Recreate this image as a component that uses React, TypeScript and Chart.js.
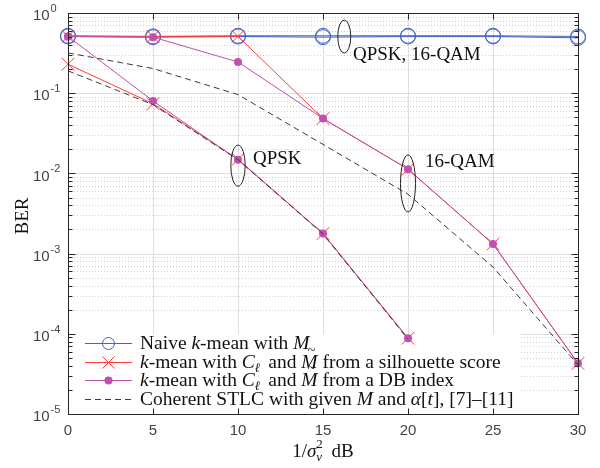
import React, { useEffect, useRef } from 'react';
import { Chart, registerables } from 'chart.js';

Chart.register(...registerables);

// ---- data ----
const snr = [0, 5, 10, 15, 20, 25, 30];
const xTicks = [0, 5, 10, 15, 20, 25, 30];
const yDecades = [0, -1, -2, -3, -4, -5];

const naiveQPSK = [0.51, 0.5, 0.51, 0.5, 0.51, 0.51, 0.49];
const naive16QAM = [0.52, 0.51, 0.52, 0.52, 0.52, 0.52, 0.51];
const silQPSK = [0.23, 0.074, 0.015, 0.00178, 0.000088];
const sil16QAM = [0.51, 0.51, 0.51, 0.0483, 0.0113, 0.00132, 0.0000428];
const dbQPSK = [0.51, 0.08, 0.0148, 0.00178, 0.000088];
const db16QAM = [0.51, 0.5, 0.245, 0.0483, 0.0113, 0.00132, 0.0000428];
const cohQPSK = [0.19, 0.072, 0.0148, 0.00175, 0.000086];
const coh16QAM = [0.318, 0.203, 0.096, 0.023, 0.0055, 0.00068, 0.000041];

const BLUE = '#4463c4';
const RED = '#ff3c3c';
const PURPLE = '#c04fae';
const DASHC = '#3a3a3a';
const AXIS = '#262626';
const SERIF = '"Liberation Serif", "Times New Roman", serif';
const SANS = '"Liberation Sans", Arial, sans-serif';

const pts = (vals: number[]) => vals.map((v, i) => ({ x: snr[i], y: v }));

type Seg = { t: string; it?: boolean; sz?: number; dy?: number; tilde?: boolean; noAdv?: boolean };

function drawRich(ctx: CanvasRenderingContext2D, segs: Seg[], x: number, y: number, base = 19) {
  let cx = x;
  ctx.textAlign = 'left';
  ctx.textBaseline = 'alphabetic';
  for (const s of segs) {
    const sz = s.sz ?? base;
    ctx.font = `${s.it ? 'italic ' : ''}${sz}px ${SERIF}`;
    ctx.fillText(s.t, cx, y + (s.dy ?? 0));
    const w = ctx.measureText(s.t).width;
    if (s.tilde) {
      ctx.save();
      ctx.font = `14px ${SERIF}`;
      ctx.textAlign = 'center';
      ctx.fillText('~', cx + w / 2 + 2, y - 13);
      ctx.restore();
    }
    if (!s.noAdv) cx += w;
  }
  return cx - x;
}

function richWidth(ctx: CanvasRenderingContext2D, segs: Seg[], base = 19) {
  let w = 0;
  for (const s of segs) {
    const sz = s.sz ?? base;
    ctx.font = `${s.it ? 'italic ' : ''}${sz}px ${SERIF}`;
    if (!s.noAdv) w += ctx.measureText(s.t).width;
  }
  return w;
}

const legendRows: { color: string; style: string; segs: Seg[] }[] = [
  {
    color: BLUE, style: 'circle',
    segs: [{ t: 'Naive ' }, { t: 'k', it: true }, { t: '-mean with ' }, { t: 'M', it: true }],
  },
  {
    color: RED, style: 'x',
    segs: [{ t: 'k', it: true }, { t: '-mean with ' }, { t: 'C', it: true }, { t: 'ℓ ', it: true, sz: 13, dy: 4 }, { t: ' and ' }, { t: 'M', it: true, tilde: true }, { t: ' from a silhouette score' }],
  },
  {
    color: PURPLE, style: 'dot',
    segs: [{ t: 'k', it: true }, { t: '-mean with ' }, { t: 'C', it: true }, { t: 'ℓ ', it: true, sz: 13, dy: 4 }, { t: ' and ' }, { t: 'M', it: true, tilde: true }, { t: ' from a DB index' }],
  },
  {
    color: DASHC, style: 'dash',
    segs: [{ t: 'Coherent STLC with given ' }, { t: 'M', it: true }, { t: ' and ' }, { t: 'α', it: true }, { t: '[' }, { t: 't', it: true }, { t: '], [7]–[11]' }],
  },
];

const deco = {
  id: 'deco',
  beforeDatasetsDraw(chart: any) {
    const { ctx, chartArea: a, scales } = chart;
    const xs = scales.x, ys = scales.y;
    ctx.save();
    ctx.lineWidth = 1;
    // minor dotted grid
    ctx.strokeStyle = '#d2d2d2';
    ctx.setLineDash([1, 2]);
    for (let d = -5; d < 0; d++) {
      for (let k = 2; k <= 9; k++) {
        const py = Math.round(ys.getPixelForValue(k * Math.pow(10, d))) + 0.5;
        ctx.beginPath();
        ctx.moveTo(a.left, py);
        ctx.lineTo(a.right, py);
        ctx.stroke();
      }
    }
    ctx.setLineDash([]);
    ctx.strokeStyle = '#dedede';
    for (const d of yDecades) {
      const py = Math.round(ys.getPixelForValue(Math.pow(10, d))) + 0.5;
      ctx.beginPath();
      ctx.moveTo(a.left, py);
      ctx.lineTo(a.right, py);
      ctx.stroke();
    }
    for (const t of xTicks) {
      const px = Math.round(xs.getPixelForValue(t)) + 0.5;
      ctx.beginPath();
      ctx.moveTo(px, a.top);
      ctx.lineTo(px, a.bottom);
      ctx.stroke();
    }
    // legend background (hides grid, data stays visible)
    ctx.fillStyle = '#ffffff';
    ctx.fillRect(69, 334, 452, 79);
    ctx.restore();
  },
  afterDatasetsDraw(chart: any) {
    const { ctx, chartArea: a, scales } = chart;
    const xs = scales.x, ys = scales.y;
    ctx.save();

    // annotations: ellipses
    ctx.strokeStyle = '#222';
    ctx.lineWidth = 1;
    const ell = (xv: number, yv: number, rx: number, ry: number) => {
      ctx.beginPath();
      ctx.ellipse(xs.getPixelForValue(xv), ys.getPixelForValue(yv), rx, ry, 0, 0, Math.PI * 2);
      ctx.stroke();
    };
    ell(16.25, 0.508, 6.5, 16.5);
    ell(10.0, 0.0125, 7.2, 20.5);
    ell(20.0, 0.0075, 7.5, 28.5);

    ctx.fillStyle = '#111';
    ctx.textBaseline = 'alphabetic';
    ctx.textAlign = 'left';
    ctx.font = `19px ${SERIF}`;
    ctx.fillText('QPSK, 16-QAM', 353, 60);
    ctx.fillText('QPSK', 253, 164);
    ctx.fillText('16-QAM', 425, 167);

    // legend
    const rowY = [343, 362, 380, 399];
    legendRows.forEach((r, i) => {
      const yy = rowY[i] + 0.5;
      ctx.strokeStyle = r.color;
      ctx.lineWidth = 1;
      if (r.style === 'dash') ctx.setLineDash([6, 4]);
      ctx.beginPath();
      ctx.moveTo(85, yy);
      ctx.lineTo(132, yy);
      ctx.stroke();
      ctx.setLineDash([]);
      const mx = 108.5;
      if (r.style === 'circle') {
        ctx.beginPath();
        ctx.arc(mx, yy, 6, 0, Math.PI * 2);
        ctx.stroke();
      } else if (r.style === 'x') {
        ctx.beginPath();
        ctx.moveTo(mx - 6, yy - 6); ctx.lineTo(mx + 6, yy + 6);
        ctx.moveTo(mx + 6, yy - 6); ctx.lineTo(mx - 6, yy + 6);
        ctx.stroke();
      } else if (r.style === 'dot') {
        ctx.fillStyle = r.color;
        ctx.beginPath();
        ctx.arc(mx, yy, 4, 0, Math.PI * 2);
        ctx.fill();
      }
      ctx.fillStyle = '#111';
      drawRich(ctx, r.segs, 140, rowY[i] + 6, 19.5);
    });

    // axes box
    ctx.strokeStyle = AXIS;
    ctx.lineWidth = 1;
    const L = Math.round(a.left) + 0.5, R = Math.round(a.right) + 0.5;
    const T = Math.round(a.top) + 0.5, B = Math.round(a.bottom) + 0.5;
    ctx.strokeRect(L, T, R - L, B - T);

    // ticks
    ctx.beginPath();
    for (const t of xTicks) {
      const px = Math.round(xs.getPixelForValue(t)) + 0.5;
      ctx.moveTo(px, B); ctx.lineTo(px, B - 6);
      ctx.moveTo(px, T); ctx.lineTo(px, T + 6);
    }
    for (const d of yDecades) {
      const py = Math.round(ys.getPixelForValue(Math.pow(10, d))) + 0.5;
      ctx.moveTo(L, py); ctx.lineTo(L + 7, py);
      ctx.moveTo(R, py); ctx.lineTo(R - 7, py);
      if (d < 0) {
        for (let k = 2; k <= 9; k++) {
          const pm = Math.round(ys.getPixelForValue(k * Math.pow(10, d))) + 0.5;
          ctx.moveTo(L, pm); ctx.lineTo(L + 4, pm);
          ctx.moveTo(R, pm); ctx.lineTo(R - 4, pm);
        }
      }
    }
    ctx.stroke();

    // tick labels
    ctx.fillStyle = '#444';
    ctx.font = `15px ${SANS}`;
    ctx.textAlign = 'center';
    ctx.textBaseline = 'middle';
    for (const t of xTicks) {
      ctx.fillText(String(t), xs.getPixelForValue(t), 431);
    }
    for (const d of yDecades) {
      const py = ys.getPixelForValue(Math.pow(10, d));
      ctx.textAlign = 'left';
      ctx.font = `15px ${SANS}`;
      ctx.fillText('10', 33, py + 3);
      ctx.font = `11px ${SANS}`;
      ctx.fillText(String(d), 50.5, py - 4);
    }

    // axis titles
    ctx.fillStyle = '#111';
    const xt: Seg[] = [
      { t: '1/' }, { t: 'σ', it: true },
      { t: '2', sz: 13, dy: -9, noAdv: true }, { t: 'v', it: true, sz: 13, dy: 4 },
      { t: '  dB' },
    ];
    const w = richWidth(ctx, xt);
    drawRich(ctx, xt, (a.left + a.right) / 2 - w / 2, 457);

    ctx.save();
    ctx.translate(23, 216);
    ctx.rotate(-Math.PI / 2);
    ctx.font = `19px ${SERIF}`;
    ctx.textAlign = 'center';
    ctx.textBaseline = 'middle';
    ctx.fillText('BER', 0, 0);
    ctx.restore();

    ctx.restore();
  },
};

export default function App() {
  const ref = useRef<HTMLCanvasElement | null>(null);
  useEffect(() => {
    if (!ref.current) return;
    const line = (data: number[], color: string, extra: any) => ({
      data: pts(data),
      borderColor: color,
      backgroundColor: color,
      borderWidth: 1,
      pointBorderWidth: 1,
      tension: 0,
      clip: false,
      ...extra,
    });
    const blueOpts = { pointStyle: 'circle', pointRadius: 7.5, pointBackgroundColor: 'rgba(0,0,0,0)', pointBorderColor: BLUE, order: 3 };
    const redOpts = { pointStyle: 'crossRot', pointRadius: 9, pointBorderColor: RED, order: 2 };
    const purpleOpts = { pointStyle: 'circle', pointRadius: 4, pointBackgroundColor: PURPLE, pointBorderColor: PURPLE, pointBorderWidth: 0, order: 1 };
    const dashOpts = { pointRadius: 0, borderDash: [6, 4], order: 0 };
    const chart = new Chart(ref.current, {
      type: 'line',
      data: {
        datasets: [
          line(naiveQPSK, BLUE, { label: 'Naive QPSK', ...blueOpts }),
          line(naive16QAM, BLUE, { label: 'Naive 16-QAM', ...blueOpts }),
          line(silQPSK, RED, { label: 'Silhouette QPSK', ...redOpts }),
          line(sil16QAM, RED, { label: 'Silhouette 16-QAM', ...redOpts }),
          line(dbQPSK, PURPLE, { label: 'DB QPSK', ...purpleOpts }),
          line(db16QAM, PURPLE, { label: 'DB 16-QAM', ...purpleOpts }),
          line(cohQPSK, DASHC, { label: 'Coherent QPSK', ...dashOpts }),
          line(coh16QAM, DASHC, { label: 'Coherent 16-QAM', ...dashOpts }),
        ],
      },
      options: {
        responsive: false,
        animation: false,
        devicePixelRatio: 1,
        layout: { padding: { left: 68, right: 22, top: 13, bottom: 54 } },
        plugins: { legend: { display: false }, tooltip: { enabled: false } },
        scales: {
          x: { type: 'linear', min: 0, max: 30, display: false },
          y: { type: 'logarithmic', min: 1e-5, max: 1, display: false },
        },
      },
      plugins: [deco],
    } as any);
    return () => chart.destroy();
  }, []);
  return (
    <div style={{ position: 'absolute', left: 0, top: 0, width: 600, height: 468, background: '#fff' }}>
      <canvas ref={ref} width={600} height={468} style={{ width: 600, height: 468, display: 'block' }} />
    </div>
  );
}
